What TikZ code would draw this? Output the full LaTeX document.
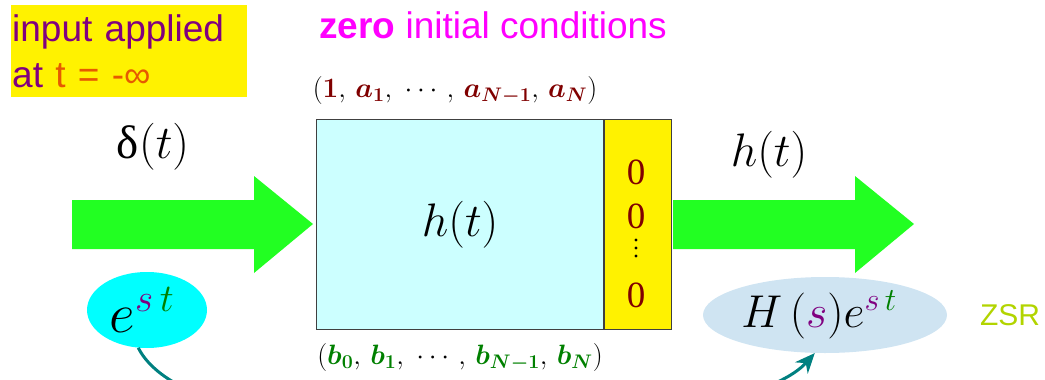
\documentclass[tikz,border=0pt]{standalone}
\usepackage{fix-cm}
\usepackage{amsmath,amssymb}
\usepackage{fontspec}
\setmainfont{Liberation Sans}
\newfontfamily\serifrm{Liberation Serif}
\usepackage{tikz}
\usetikzlibrary{shapes.geometric,arrows.meta,positioning}
\usepackage{xcolor}

\definecolor{notepurple}{RGB}{128,0,128}
\definecolor{noteorange}{RGB}{230,90,0}
\definecolor{titlemagenta}{RGB}{255,0,255}
\definecolor{coefred}{RGB}{128,0,0}
\definecolor{coefgreen}{RGB}{0,128,0}
\definecolor{boxcyan}{RGB}{204,255,255}
\definecolor{flowgreen}{RGB}{34,255,34}
\definecolor{ovalcyan}{RGB}{0,255,255}
\definecolor{ovalblue}{RGB}{207,228,242}
\definecolor{zsrgreen}{RGB}{178,212,0}
\definecolor{linkteal}{RGB}{0,128,128}

\newcommand{\fsz}[2]{\fontsize{#1}{#2}\selectfont}
\newcommand{\ca}[1]{\textcolor{coefred}{\boldsymbol{#1}}}
\newcommand{\cb}[1]{\textcolor{coefgreen}{\boldsymbol{#1}}}

\begin{document}
\begin{tikzpicture}[x=1pt,y=-1pt,
    every node/.style={inner sep=0pt},
    blockbox/.style={draw=darkgray, line width=1.2pt, anchor=north west},
    zerodigit/.style={text=coefred, font=\serifrm\fsz{37}{37}},
    coefs/.style={font=\fsz{28}{30}},
    sigtext/.style={font=\fsz{47}{47}}]
    \useasboundingbox (0,0) rectangle (1045,380);

    % Note on the input (top left)
    \node[fill=yellow, anchor=north west, text width=234pt, inner xsep=1pt,
          minimum height=92pt, align=left, text=notepurple, font=\fsz{37}{46}]
        (note) at (11,5) {input applied\\at {\color{noteorange}t = -∞}};
    \node[text=titlemagenta, font=\fsz{37}{44}] (zero) at (493,25)
        {\textbf{zero} initial conditions};

    % The system block and its initial conditions
    \node[blockbox, fill=boxcyan, minimum width=287pt, minimum height=210pt,
          sigtext] (sysbox) at (316,119) {$h(t)$};
    \node[blockbox, fill=yellow, minimum width=67pt, minimum height=210pt]
        (icbox) at (sysbox.north east) {};
    \node[zerodigit] (zeroa) at (636,172) {0};
    \node[zerodigit] (zerob) at (636,216) {0};
    \foreach \y in {240,248,256}
        \fill (636,\y) circle (1.7pt);
    \node[zerodigit] (zeroc) at (636,295) {0};

    \node[coefs] (acoef) at (455,90)
        {$(\ca{1},\, \ca{a_1},\ \cdots,\, \ca{a_{N-1}},\, \ca{a_N})$};
    \node[coefs] (bcoef) at (460,357)
        {$(\cb{b_0},\, \cb{b_1},\ \cdots,\, \cb{b_{N-1}},\, \cb{b_N})$};

    % Input and output arrows
    \foreach \x in {72,673}
        \fill[flowgreen] (\x,200) -- ++(182,0) -- ++(0,-24) -- ++(59,48)
            -- ++(-59,49) -- ++(0,-24) -- ++(-182,0) -- cycle;
    \node[sigtext] (delta) at (153,147) {{\serifrm δ}$(t)$};
    \node[sigtext] (hout) at (769,155) {$h(t)$};

    % Exponential input and its response
    \node[ellipse, fill=ovalcyan, minimum width=120pt, minimum height=76pt,
          font=\fsz{56}{56}] (est) at (147,310)
        {\hspace*{-10pt}$e^{\textcolor{notepurple}{s}\,\textcolor{coefgreen}{t}}$};
    \node[ellipse, fill=ovalblue, minimum width=244pt, minimum height=76pt,
          font=\fsz{46}{46}] (hs) at (825,315)
        {\hspace*{-12pt}$H\,(\textcolor{notepurple}{s})e^{\textcolor{notepurple}{s}\,\textcolor{coefgreen}{t}}$};
    \node[text=zsrgreen, font=\fsz{30}{36}] (zsr) at (1010,315) {ZSR};

    \begin{scope}
        \clip (0,0) rectangle (1045,380);
        \draw[linkteal, line width=3pt, -{Stealth[length=20pt,width=17pt]}]
            (est.257) .. controls (200,470) and (735,442) .. (hs.255);
    \end{scope}
\end{tikzpicture}
\end{document}
